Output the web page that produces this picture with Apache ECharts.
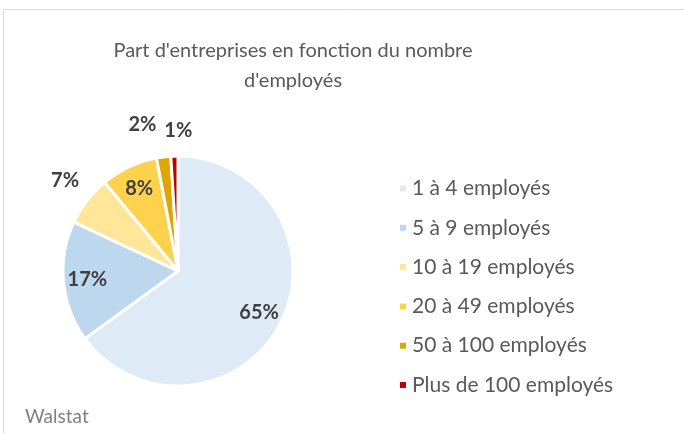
<!DOCTYPE html>
<html>
<head>
<meta charset="utf-8">
<script src="https://cdn.jsdelivr.net/npm/echarts@6/dist/echarts.min.js"></script>
<style>
  html, body { margin: 0; padding: 0; background: #fff; }
  #chart { width: 684px; height: 434px; }
</style>
</head>
<body>
<div id="chart"></div>
<script>
  // catégories et parts (%)
  let categories = ['1 à 4 employés', '5 à 9 employés', '10 à 19 employés', '20 à 49 employés', '50 à 100 employés', 'Plus de 100 employés']
  let values = [65, 17, 7, 8, 2, 1]
  let colors = ['#deebf7', '#bdd7ee', '#ffe699', '#ffd24e', '#dda700', '#c00000']
  // quelles étiquettes sont dans la part, lesquelles dehors
  let insideLabels = [true, true, false, true, false, false]

  let font = 'Lato, "Open Sans", sans-serif'
  let center = [178, 271]

  let chart = echarts.init(document.getElementById('chart'))

  let labelStyle = {
    fontFamily: font,
    fontSize: 20,
    fontWeight: 'bold',
    color: '#404040'
  }

  // petits décalages pour les étiquettes extérieures (comme Excel)
  let outsideOffsets = [null, null, [4, 0], null, [-17, 0], [5, 7]]

  chart.setOption({
    backgroundColor: '#fff',
    animation: false,
    title: {
      text: "Part d'entreprises en fonction du nombre\nd'employés",
      left: 288,
      top: 31,
      textAlign: 'center',
      textStyle: {
        fontFamily: font,
        fontSize: 20,
        fontWeight: 'normal',
        color: '#595959',
        lineHeight: 30
      }
    },
    legend: {
      orient: 'vertical',
      left: 393,
      top: 173,
      icon: 'rect',
      itemWidth: 8,
      itemHeight: 8,
      itemGap: 18.3,
      data: categories,
      selectedMode: false,
      textStyle: {
        fontFamily: font,
        fontSize: 21,
        color: '#595959',
        lineHeight: 21
      }
    },
    graphic: [
      {
        type: 'rect',
        shape: { x: 3.5, y: 9.5, width: 700, height: 500 },
        style: { fill: 'none', stroke: '#d9d9d9', lineWidth: 1 },
        silent: true
      },
      {
        type: 'text',
        left: 25,
        top: 407,
        style: { text: 'Walstat', fontFamily: font, fontSize: 19, fill: '#7f7f7f' },
        silent: true
      }
    ],
    series: [
      {
        name: 'parts',
        type: 'pie',
        center: center,
        radius: 115,
        startAngle: 90,
        clockwise: true,
        silent: true,
        label: { show: false },
        labelLine: { show: false },
        itemStyle: { borderColor: '#fff', borderWidth: 3 },
        data: categories.map((c, i) => ({ name: c, value: values[i], itemStyle: { color: colors[i] } }))
      },
      {
        // étiquettes dans les parts
        name: 'etiquettes-in',
        type: 'pie',
        center: center,
        radius: 176,
        startAngle: 90,
        silent: true,
        legendHoverLink: false,
        itemStyle: { color: 'rgba(0,0,0,0)' },
        labelLine: { show: false },
        data: categories.map((c, i) => ({
          name: c,
          value: values[i],
          label: Object.assign({ show: insideLabels[i], position: 'inside', formatter: '{c}%' }, labelStyle)
        }))
      },
      {
        // étiquettes hors des parts
        name: 'etiquettes-out',
        type: 'pie',
        center: center,
        radius: 290,
        startAngle: 90,
        silent: true,
        legendHoverLink: false,
        itemStyle: { color: 'rgba(0,0,0,0)' },
        labelLine: { show: false },
        data: categories.map((c, i) => ({
          name: c,
          value: values[i],
          label: Object.assign({
            show: !insideLabels[i],
            position: 'inside',
            formatter: '{c}%',
            offset: outsideOffsets[i] || [0, 0]
          }, labelStyle)
        }))
      }
    ]
  })
</script>
</body>
</html>
